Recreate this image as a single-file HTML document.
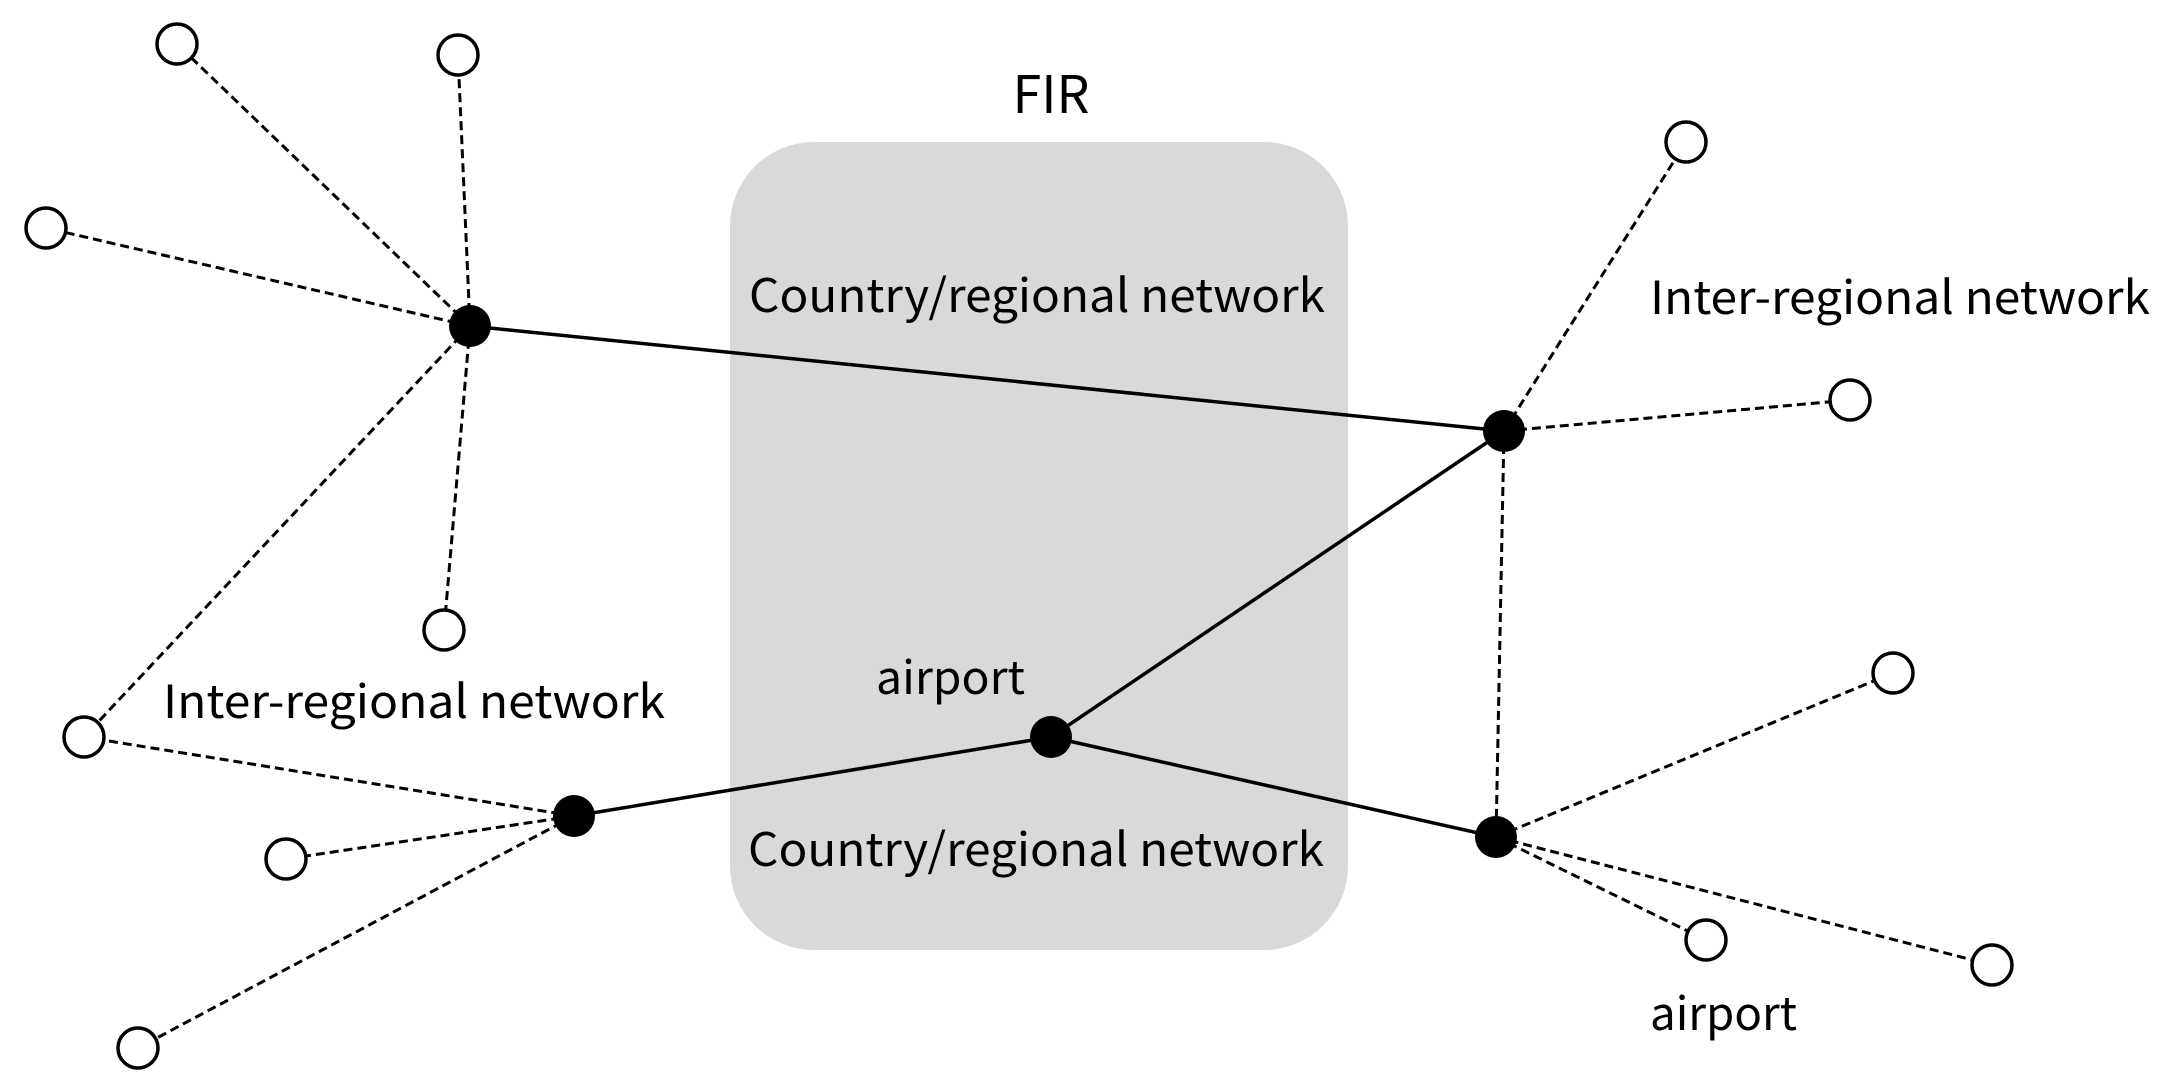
<!DOCTYPE html>
<html><head><meta charset="utf-8"><style>html,body{margin:0;padding:0;background:#fff}svg{display:block}</style></head>
<body>
<svg width="2168" height="1087" viewBox="0 0 2168 1087" xmlns="http://www.w3.org/2000/svg">
<rect x="730" y="142" width="618" height="808" rx="84" fill="#d9d9d9"/>
<g stroke="#000" stroke-width="3" fill="none" stroke-dasharray="9,5">
<line x1="470" y1="326" x2="177" y2="44"/>
<line x1="470" y1="326" x2="458" y2="55"/>
<line x1="470" y1="326" x2="46" y2="228"/>
<line x1="470" y1="326" x2="444" y2="630"/>
<line x1="470" y1="326" x2="84" y2="737"/>
<line x1="574" y1="816" x2="84" y2="737"/>
<line x1="574" y1="816" x2="286" y2="859"/>
<line x1="574" y1="816" x2="138" y2="1048"/>
<line x1="1504" y1="431" x2="1686" y2="142"/>
<line x1="1504" y1="431" x2="1850" y2="400"/>
<line x1="1504" y1="431" x2="1496" y2="837"/>
<line x1="1496" y1="837" x2="1893" y2="673"/>
<line x1="1496" y1="837" x2="1706" y2="940"/>
<line x1="1496" y1="837" x2="1992" y2="965"/>
</g>
<g stroke="#000" stroke-width="3.5" fill="none">
<line x1="470" y1="326" x2="1504" y2="431"/>
<line x1="1051" y1="737" x2="1504" y2="431"/>
<line x1="1051" y1="737" x2="574" y2="816"/>
<line x1="1051" y1="737" x2="1496" y2="837"/>
</g>
<g fill="#fff" stroke="#000" stroke-width="3.5">
<circle cx="177" cy="44" r="20"/><circle cx="458" cy="55" r="20"/><circle cx="46" cy="228" r="20"/>
<circle cx="444" cy="630" r="20"/><circle cx="84" cy="737" r="20"/><circle cx="286" cy="859" r="20"/>
<circle cx="138" cy="1048" r="20"/><circle cx="1686" cy="142" r="20"/><circle cx="1850" cy="400" r="20"/>
<circle cx="1893" cy="673" r="20"/><circle cx="1706" cy="940" r="20"/><circle cx="1992" cy="965" r="20"/>
</g>
<g fill="#000">
<circle cx="470" cy="326" r="21"/><circle cx="1504" cy="431" r="21"/><circle cx="1051" cy="737" r="21"/>
<circle cx="574" cy="816" r="21"/><circle cx="1496" cy="837" r="21"/>
</g>
<g font-family="'Noto Sans CJK JP','Liberation Sans',sans-serif" font-size="46" fill="#000">
<text x="1051" y="113" text-anchor="middle" font-size="52">FIR</text>
<text x="749" y="312" textLength="576" lengthAdjust="spacingAndGlyphs">Country/regional network</text>
<text x="748" y="866" textLength="576" lengthAdjust="spacingAndGlyphs">Country/regional network</text>
<text x="1650" y="314" textLength="500" lengthAdjust="spacingAndGlyphs">Inter-regional network</text>
<text x="163" y="718" textLength="502" lengthAdjust="spacingAndGlyphs">Inter-regional network</text>
<text x="876" y="694" textLength="149" lengthAdjust="spacingAndGlyphs">airport</text>
<text x="1650" y="1030" textLength="147" lengthAdjust="spacingAndGlyphs">airport</text>
</g>
</svg>
</body></html>
